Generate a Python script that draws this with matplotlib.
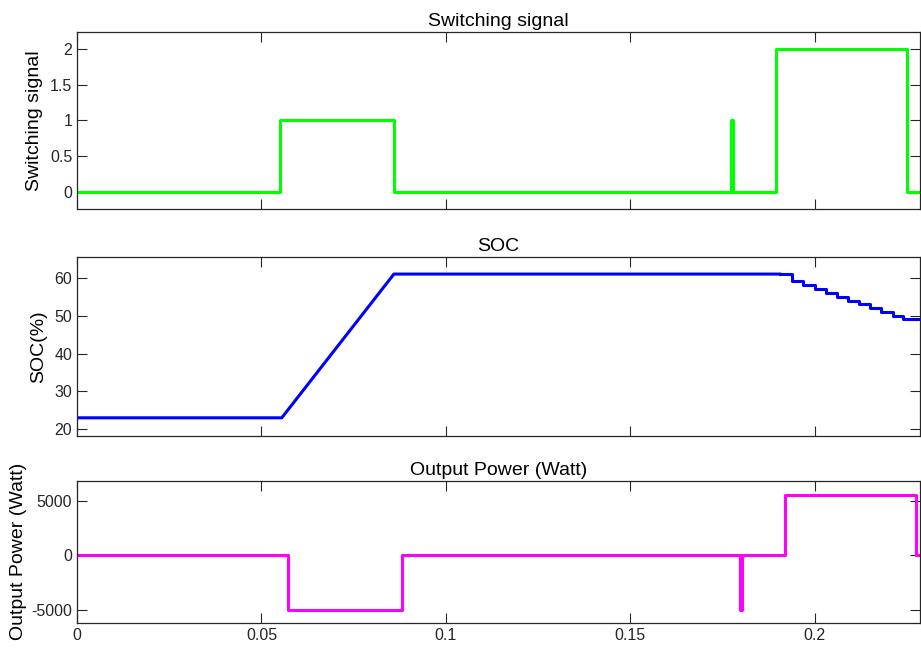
import matplotlib
matplotlib.use("Agg")
import matplotlib.pyplot as plt
import numpy as np
from matplotlib.ticker import FormatStrFormatter

plt.rcParams["font.family"] = ["Liberation Sans", "DejaVu Sans"]
plt.rcParams["axes.unicode_minus"] = False

# switching signal: change times and the value held after each one
sw_t = [0, 0.0549, 0.0859, 0.1774, 0.1779, 0.1895, 0.2251, 0.2285]
sw_v = [0, 1, 0, 1, 0, 2, 0, 0]

# SOC: charging ramp, then stepwise discharge
soc_ramp_t = [0, 0.0555, 0.0859, 0.1905]
soc_ramp_v = [23, 23, 61, 61]
soc_step_t = [0.1905, 0.1939, 0.1969, 0.2000, 0.2031, 0.2059, 0.2090,
              0.2121, 0.2150, 0.2180, 0.2211, 0.2240, 0.2285]
soc_step_v = [61, 59.3, 58, 57, 56, 55, 54, 53, 52, 51, 50, 49, 49]

# output power: change times and the value held after each one
pw_t = [0, 0.0572, 0.0881, 0.1798, 0.1802, 0.1918, 0.2273, 0.2285]
pw_v = [0, -5000, 0, -5000, 0, 5550, 0, 0]

x_max = 0.2285
x_ticks = [0, 0.05, 0.1, 0.15, 0.2]

fig = plt.figure(figsize=(9.21, 6.48), dpi=100)
left, width = 77 / 921, 843 / 921
ax1 = fig.add_axes([left, 0.6775, width, 0.2731])
ax2 = fig.add_axes([left, 0.3272, width, 0.2767])
ax3 = fig.add_axes([left, 0.0386, width, 0.2196])

lw = 2.2
ax1.plot(sw_t, sw_v, color="#00ff00", lw=lw, drawstyle="steps-post")
ax2.plot(soc_ramp_t, soc_ramp_v, color="#0000ff", lw=lw)
ax2.plot(soc_step_t, soc_step_v, color="#0000ff", lw=lw, drawstyle="steps-post")
ax3.plot(pw_t, pw_v, color="#ff00ff", lw=lw, drawstyle="steps-post")

ax1.set_ylim(-0.24, 2.24)
ax1.set_yticks([0, 0.5, 1, 1.5, 2])
ax1.yaxis.set_major_formatter(FormatStrFormatter("%g"))
ax2.set_ylim(18.2, 65.6)
ax2.set_yticks([20, 30, 40, 50, 60])
ax3.set_ylim(-6200, 6860)
ax3.set_yticks([-5000, 0, 5000])

fs = 14
ax1.set_title("Switching signal", fontsize=fs, pad=4)
ax2.set_title("SOC", fontsize=fs, pad=4)
ax3.set_title("Output Power (Watt)", fontsize=fs, pad=4)
ax1.set_ylabel("Switching signal", fontsize=fs, labelpad=5)
ax2.set_ylabel("SOC(%)", fontsize=fs, labelpad=5)
ax3.set_ylabel("Output Power (Watt)", fontsize=fs, labelpad=3)

for ax in (ax1, ax2, ax3):
    ax.set_xlim(0, x_max)
    ax.set_xticks(x_ticks)
    ax.tick_params(direction="in", top=True, right=True, length=7,
                   width=0.8, labelsize=11.5, colors="#262626")
    for s in ax.spines.values():
        s.set_color("#262626")
        s.set_linewidth(0.9)
for ax in (ax1, ax2):
    ax.tick_params(labelbottom=False)
ax3.xaxis.set_major_formatter(FormatStrFormatter("%g"))

fig.savefig("out.png", dpi=100)
